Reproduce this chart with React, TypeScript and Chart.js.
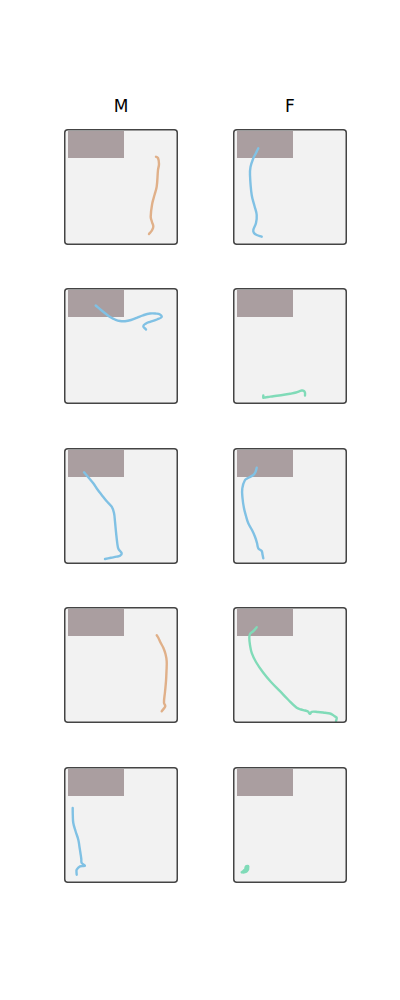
import React, { useEffect, useRef } from 'react';
import { Chart, registerables } from 'chart.js';

Chart.register(...registerables);

// Arena extent (panel units) and start zone
const ARENA_W = 114;
const ARENA_H = 116;
const ZONE_X = [4, 60];
const ZONE_Y = [2, 29];

const COLUMN_TITLES = ['M', 'F'];

// Trajectories (x, y in arena units, y measured from top)
const M1_X = [92, 94, 95, 94, 92.7, 90.5, 88.3, 86.7, 88, 89.3, 87.5, 85];
const M1_Y = [27.7, 29, 35, 41, 57.7, 66, 74.3, 87.7, 93, 97.7, 102, 105];

const F1_X = [25.3, 23, 20.3, 17.5, 17, 18.7, 21.5, 23.7, 23, 20.3, 21, 23.7, 28.7];
const F1_Y = [19.3, 24, 29.3, 38, 46, 66, 77, 86, 94, 101, 104, 106, 107.7];

const M2_X = [31.7, 37, 42.7, 47, 51, 56, 61, 67, 72.7, 79, 86, 92, 96, 97.7, 93, 86, 82, 79.3, 82];
const M2_Y = [17.5, 22, 26.5, 29.5, 31.5, 33, 33.2, 32, 29.8, 27.3, 25.5, 25.6, 26.5, 29, 31.5, 33.8, 35.5, 38.2, 41.5];

const F2_X = [30.3, 30.3, 31, 35, 40.3, 48, 57, 63, 68.7, 71, 72, 72];
const F2_Y = [107.5, 109.8, 109.5, 109, 108.2, 107.3, 105.8, 104.5, 102.5, 103, 104.8, 107.5];

const M3_X = [20, 24.5, 29.3, 33.5, 37.7, 42.5, 47.7, 50, 51, 52, 53.3, 54.5, 57.7, 56, 52.7, 47, 41];
const M3_Y = [24.3, 29.5, 35.3, 41.5, 47, 53, 58.7, 65, 73.7, 84, 95.3, 101, 105.3, 107.8, 108.7, 109.8, 111];

const F3_X = [23.7, 22.5, 20.3, 15, 12, 9.3, 9.5, 11, 13, 15.3, 19, 22, 24, 25.3, 28.7, 29.5, 30.3];
const F3_Y = [19.7, 24, 27, 30, 32, 40.3, 50, 60.3, 68, 75.3, 82, 88.7, 95, 100.3, 103, 106.5, 110.3];

const M4_X = [92.7, 94.3, 96.5, 99.3, 101.5, 102.7, 102.5, 102, 101, 100, 101.3, 99.5, 97.7];
const M4_Y = [28.2, 30.8, 35.5, 40.8, 47, 54.2, 64, 74.2, 85, 95.8, 99.2, 102, 104.2];

const F4_X = [23.7, 20.3, 17, 16.3, 17, 18.7, 23, 30.3, 38, 47, 55, 63.7, 68, 72, 75, 77, 78.7, 85, 92, 97, 100.3, 102, 103.7, 103];
const F4_Y = [20.2, 24.2, 27, 30.8, 38, 45.8, 55, 65.8, 75, 84.2, 92.5, 100.8, 102.5, 103.5, 104.5, 106.8, 104.8, 105, 105.8, 106.5, 108.2, 109.5, 110.8, 114.2];

const M5_X = [8.7, 8.8, 9.3, 11.5, 14.3, 15.5, 16.7, 17.3, 17.7, 21, 16, 12.7, 12.5, 12.7];
const M5_Y = [41, 48, 56, 64, 72.7, 80, 87.7, 92, 96, 98.7, 99.3, 102.7, 105, 107.7];

const F5_X = [8.7, 12, 13, 15.3, 13.7, 9.3, 11.5, 14];
const F5_Y = [105.3, 102.7, 99.3, 99.3, 104.3, 105.3, 103, 101];

const ORANGE = '#e0b089';
const BLUE = '#80c1e4';
const GREEN = '#80dbb8';

const PANELS = [
  { col: 0, row: 0, xs: M1_X, ys: M1_Y, color: ORANGE },
  { col: 1, row: 0, xs: F1_X, ys: F1_Y, color: BLUE },
  { col: 0, row: 1, xs: M2_X, ys: M2_Y, color: BLUE },
  { col: 1, row: 1, xs: F2_X, ys: F2_Y, color: GREEN },
  { col: 0, row: 2, xs: M3_X, ys: M3_Y, color: BLUE },
  { col: 1, row: 2, xs: F3_X, ys: F3_Y, color: BLUE },
  { col: 0, row: 3, xs: M4_X, ys: M4_Y, color: ORANGE },
  { col: 1, row: 3, xs: F4_X, ys: F4_Y, color: GREEN },
  { col: 0, row: 4, xs: M5_X, ys: M5_Y, color: BLUE },
  { col: 1, row: 4, xs: F5_X, ys: F5_Y, color: GREEN },
];

const COL_LEFT = [64, 233];
const ROW_TOP = [129, 288, 448, 607, 767];

const arenaPlugin = {
  id: 'arena',
  beforeDraw(chart: any) {
    const { ctx } = chart;
    const w = chart.width;
    const h = chart.height;
    ctx.save();
    ctx.fillStyle = '#f2f2f2';
    ctx.beginPath();
    ctx.roundRect(0.75, 0.75, w - 1.5, h - 1.5, 3);
    ctx.fill();
    ctx.restore();
  },
  beforeDatasetsDraw(chart: any) {
    const { ctx, scales } = chart;
    const x0 = scales.x.getPixelForValue(ZONE_X[0]);
    const x1 = scales.x.getPixelForValue(ZONE_X[1]);
    const y0 = scales.y.getPixelForValue(ZONE_Y[0]);
    const y1 = scales.y.getPixelForValue(ZONE_Y[1]);
    ctx.save();
    ctx.fillStyle = '#aa9ea0';
    ctx.fillRect(Math.min(x0, x1), Math.min(y0, y1), Math.abs(x1 - x0), Math.abs(y1 - y0));
    ctx.restore();
  },
  afterDraw(chart: any) {
    const { ctx } = chart;
    const w = chart.width;
    const h = chart.height;
    ctx.save();
    ctx.strokeStyle = '#444444';
    ctx.lineWidth = 1.5;
    ctx.beginPath();
    ctx.roundRect(0.75, 0.75, w - 1.5, h - 1.5, 3);
    ctx.stroke();
    ctx.restore();
  },
};

function Panel({ xs, ys, color, left, top }: any) {
  const ref = useRef<HTMLCanvasElement>(null);
  useEffect(() => {
    if (!ref.current) return;
    const chart = new Chart(ref.current, {
      type: 'scatter',
      data: {
        datasets: [
          {
            data: xs.map((x: number, i: number) => ({ x, y: ys[i] })),
            showLine: true,
            borderColor: color,
            borderWidth: 2.4,
            pointRadius: 0,
            tension: 0.4,
            borderCapStyle: 'round',
            borderJoinStyle: 'round',
          } as any,
        ],
      },
      options: {
        animation: false,
        responsive: false,
        events: [],
        layout: { padding: 0 },
        plugins: { legend: { display: false }, tooltip: { enabled: false } },
        scales: {
          x: { type: 'linear', min: 0, max: ARENA_W, display: false },
          y: { type: 'linear', min: 0, max: ARENA_H, reverse: true, display: false },
        },
      },
      plugins: [arenaPlugin],
    });
    return () => chart.destroy();
  }, []);
  return (
    <canvas
      ref={ref}
      width={ARENA_W}
      height={ARENA_H}
      style={{ position: 'absolute', left, top, width: ARENA_W, height: ARENA_H }}
    />
  );
}

export default function App() {
  return (
    <div style={{ position: 'absolute', left: 0, top: 0, width: 400, height: 1000, background: '#ffffff' }}>
      {COLUMN_TITLES.map((t, i) => (
        <div
          key={t}
          style={{
            position: 'absolute',
            left: COL_LEFT[i],
            top: 96,
            width: ARENA_W,
            textAlign: 'center',
            fontFamily: '"DejaVu Sans", sans-serif',
            fontSize: 17,
            lineHeight: '20px',
            color: '#000',
          }}
        >
          {t}
        </div>
      ))}
      {PANELS.map((p, i) => (
        <Panel key={i} xs={p.xs} ys={p.ys} color={p.color} left={COL_LEFT[p.col]} top={ROW_TOP[p.row]} />
      ))}
    </div>
  );
}
